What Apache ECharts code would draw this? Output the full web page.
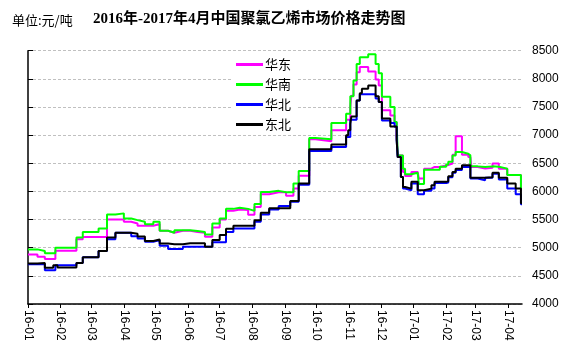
<!DOCTYPE html>
<html>
<head>
<meta charset="utf-8">
<script src="https://cdn.jsdelivr.net/npm/echarts@6/dist/echarts.min.js"></script>
<style>
  html, body { margin: 0; padding: 0; background: #fff; }
  #chart { width: 566px; height: 348px; }
</style>
</head>
<body>
<div id="chart"></div>
<script>
// Price change dates (each value holds until the next date)
const dates = [
  '2016-01-01','2016-01-10','2016-01-17','2016-01-25','2016-01-27','2016-01-29',
  '2016-02-16','2016-02-22','2016-03-08','2016-03-16','2016-03-24','2016-04-01',
  '2016-04-08','2016-04-14','2016-04-21','2016-04-29','2016-05-05','2016-05-13',
  '2016-05-19','2016-05-27','2016-06-03','2016-06-10','2016-06-17','2016-06-24',
  '2016-07-01','2016-07-07','2016-07-14','2016-07-20','2016-07-28','2016-08-03',
  '2016-08-09','2016-08-17','2016-08-26','2016-09-02','2016-09-06','2016-09-09',
  '2016-09-14','2016-09-24','2016-09-30','2016-10-15','2016-10-29','2016-10-31',
  '2016-11-02','2016-11-03','2016-11-05','2016-11-08','2016-11-11','2016-11-13',
  '2016-11-19','2016-11-26','2016-11-29','2016-12-02','2016-12-10','2016-12-14',
  '2016-12-16','2016-12-17','2016-12-20','2016-12-22','2016-12-24','2016-12-30',
  '2017-01-05','2017-01-06','2017-01-11','2017-01-18','2017-01-21','2017-01-26',
  '2017-02-01','2017-02-03','2017-02-07','2017-02-10','2017-02-16','2017-02-22',
  '2017-02-24','2017-02-25','2017-03-03','2017-03-10','2017-03-17','2017-03-23',
  '2017-03-31','2017-04-08','2017-04-13','2017-04-14'
];

// 华东
const eastChina = [
  4880,4840,4800,4800,4945,4945,
  5150,5190,5190,5500,5500,5460,
  5430,5390,5390,5420,5300,5265,
  5300,5300,5280,5265,5195,5360,
  5500,5655,5680,5670,5585,5725,
  5950,5985,5985,5925,5925,6050,
  6280,6925,6890,7085,7275,7275,
  7500,7700,7900,8115,8210,8210,
  8130,7990,7880,7440,7350,7230,
  7000,6640,6640,6345,6275,6345,
  6345,6230,6405,6435,6435,6460,
  6470,6495,6650,6980,6650,6610,
  6610,6435,6405,6420,6495,6405,
  6290,6290,6030,6030
];

// 华南
const southChina = [
  4970,4940,4900,4900,5000,5000,
  5180,5280,5340,5590,5610,5520,
  5490,5460,5415,5460,5300,5265,
  5310,5310,5295,5280,5235,5430,
  5520,5690,5710,5690,5655,5775,
  5990,6010,5985,5985,5985,6140,
  6365,6950,6925,7215,7380,7380,
  7690,7690,7970,8265,8385,8385,
  8435,8265,8100,7680,7500,7235,
  7235,6640,6640,6405,6305,6330,
  6330,6130,6385,6385,6385,6440,
  6480,6525,6640,6700,6670,6640,
  6445,6445,6435,6445,6440,6405,
  6290,6290,6060,6060
];

// 华北
const northChina = [
  4705,4705,4600,4600,4690,4690,
  4730,4830,4940,5150,5265,5265,
  5205,5165,5105,5135,5035,4975,
  4975,5015,5015,5015,5015,5095,
  5095,5280,5340,5340,5340,5460,
  5590,5680,5740,5740,5815,5815,
  6120,6720,6720,6790,6965,6965,
  7275,7275,7275,7615,7725,7725,
  7725,7650,7590,7260,7215,7150,
  6930,6610,6255,6050,6020,6140,
  5950,5950,6010,6050,6150,6150,
  6160,6250,6330,6380,6435,6435,
  6230,6230,6200,6245,6315,6210,
  6050,5950,5770,5770
];

// 东北
const northeast = [
  4720,4730,4645,4690,4690,4650,
  4730,4830,4940,5180,5265,5265,
  5250,5200,5120,5145,5075,5060,
  5060,5080,5080,5080,5015,5135,
  5225,5335,5390,5390,5390,5490,
  5620,5700,5700,5700,5830,5830,
  6140,6750,6750,6835,7000,7085,
  7200,7330,7330,7615,7745,7825,
  7880,7690,7590,7295,7155,7155,
  6910,6610,6255,6080,6050,6170,
  6020,6020,6050,6110,6170,6170,
  6180,6270,6345,6405,6465,6465,
  6245,6245,6245,6250,6330,6245,
  6140,6050,5790,5790
];

const seriesNames = ['华东', '华南', '华北', '东北'];
const seriesColors = ['#ff00ff', '#00ff00', '#0000ff', '#000000'];
const seriesValues = [eastChina, southChina, northChina, northeast];

const chart = echarts.init(document.getElementById('chart'), null, { renderer: 'canvas' });

const font = '"Liberation Sans", "Noto Sans CJK SC", sans-serif';

chart.setOption({
  animation: false,
  backgroundColor: '#fff',
  title: [
    {
      text: '单位:元/吨',
      left: 7, top: 9,
      textStyle: { fontSize: 13, fontWeight: 'normal', color: '#000', fontFamily: '"Noto Sans CJK SC", sans-serif' }
    },
    {
      text: '2016年-2017年4月中国聚氯乙烯市场价格走势图',
      left: 88, top: 7,
      textStyle: { fontSize: 15, fontWeight: 'bold', color: '#000', fontFamily: '"Liberation Serif", "Noto Sans CJK SC", serif' }
    }
  ],
  legend: {
    orient: 'vertical',
    left: 231, top: 54,
    padding: [4, 6, 4, 5],
    backgroundColor: '#fff',
    icon: 'rect',
    itemWidth: 27, itemHeight: 3,
    itemGap: 7,
    data: seriesNames,
    textStyle: { fontSize: 13, color: '#000', fontFamily: '"Noto Sans CJK SC", sans-serif', padding: [0, 0, 0, -3] }
  },
  grid: { left: 28, right: 44, top: 50.7, bottom: 44 },
  xAxis: {
    type: 'time',
    min: '2016-01-01',
    max: '2017-04-14',
    splitNumber: 15,
    axisLine: { show: true, lineStyle: { color: '#000', width: 1.5 } },
    axisTick: { show: true, length: 4, lineStyle: { color: '#000' } },
    axisLabel: {
      rotate: -90,
      margin: 6,
      fontSize: 12,
      color: '#000',
      fontFamily: font,
      formatter: function (val) {
        return echarts.time.format(val, '{yy}-{MM}', false);
      }
    },
    splitLine: { show: false }
  },
  yAxis: [
    {
      type: 'value',
      position: 'right',
      min: 4000, max: 8500, interval: 500,
      axisLine: { show: false },
      axisTick: { show: false },
      axisLabel: {
        margin: 10, fontSize: 12, color: '#000', fontFamily: font,
        formatter: function (v) { return String(v); }
      },
      splitLine: { show: true, lineStyle: { color: '#c0c0c0', type: [3, 2], width: 1 } }
    },
    {
      type: 'value',
      position: 'left',
      min: 4000, max: 8500, interval: 500,
      axisLine: { show: true, onZero: false, lineStyle: { color: '#000', width: 1.5 } },
      axisTick: { show: true, inside: true, length: 5, lineStyle: { color: '#000' } },
      axisLabel: { show: false },
      splitLine: { show: false }
    }
  ],
  series: seriesNames.map(function (name, k) {
    return {
      name: name,
      type: 'line',
      step: 'end',
      showSymbol: false,
      symbol: 'none',
      color: seriesColors[k],
      lineStyle: { width: 2, color: seriesColors[k] },
      data: dates.map(function (d, i) { return [d, seriesValues[k][i]]; })
    };
  })
});
</script>
</body>
</html>
